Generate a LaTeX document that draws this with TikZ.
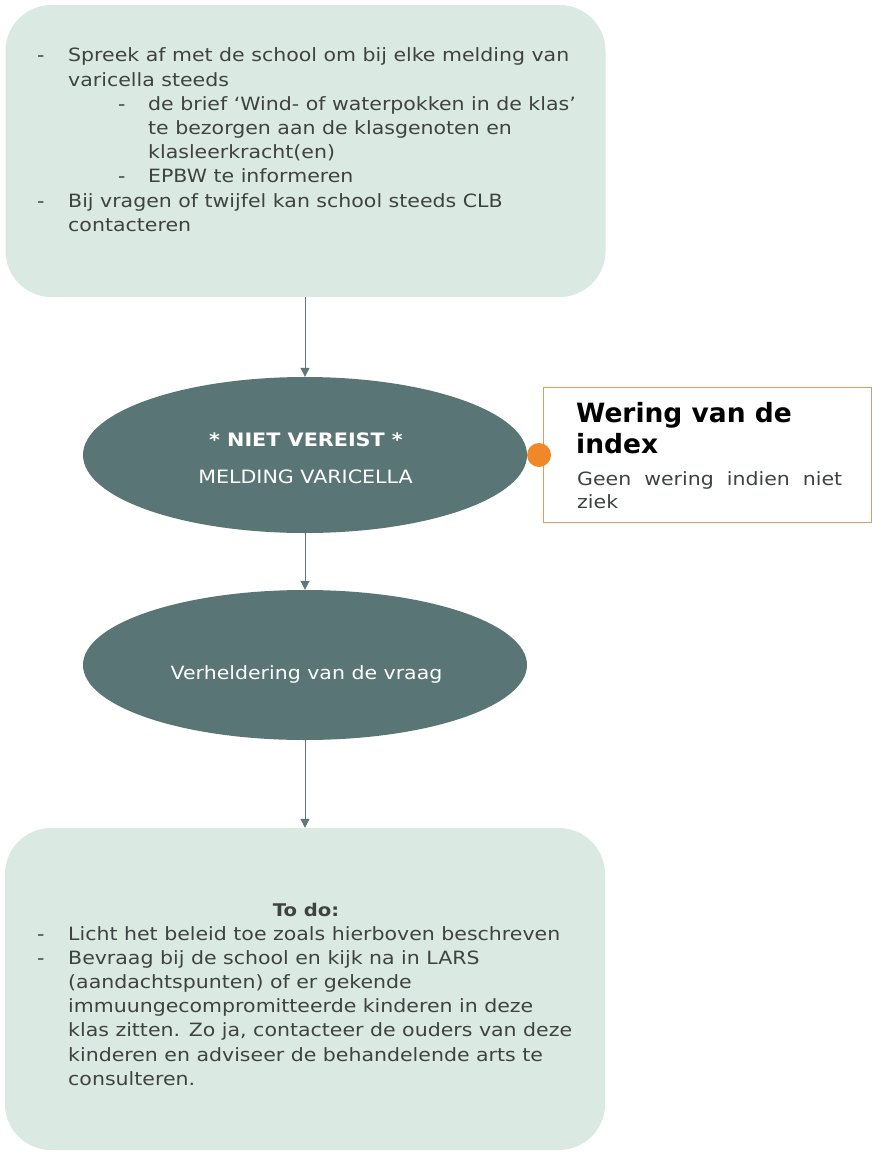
\documentclass[tikz,border=0pt]{standalone}
\usepackage{fontspec}
\setmainfont[FakeStretch=1.12]{DejaVu Sans}
\newfontfamily\titlefont{DejaVu Sans}
\usetikzlibrary{shapes.geometric,arrows.meta}
\definecolor{boxfill}{HTML}{DAEAE3}
\definecolor{ellfill}{HTML}{5A7576}
\definecolor{linec}{HTML}{5E7879}
\definecolor{dotc}{HTML}{F0882A}
\definecolor{framec}{HTML}{E49A5A}
\definecolor{txt}{HTML}{3E4242}
\newcommand{\dsh}{\makebox[31pt][l]{-}}
\newcommand{\ind}{\makebox[31pt][l]{}}
\newcommand{\subdsh}{\makebox[81pt][l]{}\makebox[30pt][l]{-}}
\newcommand{\subind}{\makebox[111pt][l]{}}
\begin{document}
\begin{tikzpicture}[x=1pt,y=-1pt,
  softbox/.style={fill=boxfill,draw=none,rounded corners=46pt,minimum width=600pt,inner sep=0pt},
  oval/.style={ellipse,fill=ellfill,draw=none,minimum width=444pt,inner sep=0pt},
  listtext/.style={anchor=north west,inner sep=0pt,align=left,text=txt,font=\fontsize{18.3}{24.2}\selectfont},
  ovaltext/.style={text=white,inner sep=0pt,anchor=base,font=\fontsize{18.4}{22}\selectfont},
  flow/.style={draw=linec,line width=1pt,-{Triangle[width=9pt,length=9pt]}}]
\useasboundingbox (0,0) rectangle (872,1156);
\fill[white] (0,0) rectangle (872,1156);
% top box
\node[softbox,minimum height=292pt] (top) at (305.5,151) {};
\node[listtext] (toptext) at (37,47.8) {%
\dsh Spreek af met de school om bij elke melding van\\
\ind varicella steeds\\
\subdsh de brief ‘Wind- of waterpokken in de klas’\\
\subind te bezorgen aan de klasgenoten en\\
\subind klasleerkracht(en)\\
\subdsh EPBW te informeren\\
\dsh Bij vragen of twijfel kan school steeds CLB\\
\ind contacteren};
% ellipse 1
\node[oval,minimum height=156pt] (melding) at (305,455) {};
\node[ovaltext,font=\bfseries\fontsize{18.5}{22}\selectfont] (niet) at (306,446) {* NIET VEREIST *};
\node[ovaltext] (meld) at (305.5,483) {MELDING VARICELLA};
% side box
\node[draw=framec,line width=1pt,fill=white,minimum width=328pt,minimum height=135pt,inner sep=0pt] (wering) at (707,454.5) {};
\node[anchor=north west,inner sep=0pt,align=left,font=\titlefont\bfseries\fontsize{26.5}{31}\selectfont] (wtitle) at (576,402) {Wering van de\\index};
\node[anchor=north west,inner sep=0pt,align=left,text=txt,font=\fontsize{18.3}{23}\selectfont] (wbody) at (577,471) {\makebox[265pt][s]{Geen wering indien niet}\\ziek};
\node[circle,fill=dotc,minimum size=24pt,inner sep=0pt] (dot) at (539,455) {};
% ellipse 2
\node[oval,minimum height=150pt] (vraag) at (305,665) {};
\node[ovaltext,font=\fontsize{18.3}{22}\selectfont] (vraagtxt) at (306.5,679) {Verheldering van de vraag};
% bottom box
\node[softbox,minimum height=322pt] (todo) at (305,989) {};
\node[inner sep=0pt,anchor=base,text=txt,font=\bfseries\fontsize{17.5}{20}\selectfont] (todotitle) at (306,916) {To do:};
\node[listtext] (todotext) at (37,926) {%
\dsh Licht het beleid toe zoals hierboven beschreven\\
\dsh Bevraag bij de school en kijk na in LARS\\
\ind (aandachtspunten) of er gekende\\
\ind immuungecompromitteerde kinderen in deze\\
\ind klas zitten. Zo ja, contacteer de ouders van deze\\
\ind kinderen en adviseer de behandelende arts te\\
\ind consulteren.};
% connectors
\draw[flow] (top.south -| melding.north) -- (melding.north);
\draw[flow] (melding.south) -- (vraag.north);
\draw[flow] (vraag.south) -- (todo.north -| vraag.south);
\end{tikzpicture}
\end{document}
